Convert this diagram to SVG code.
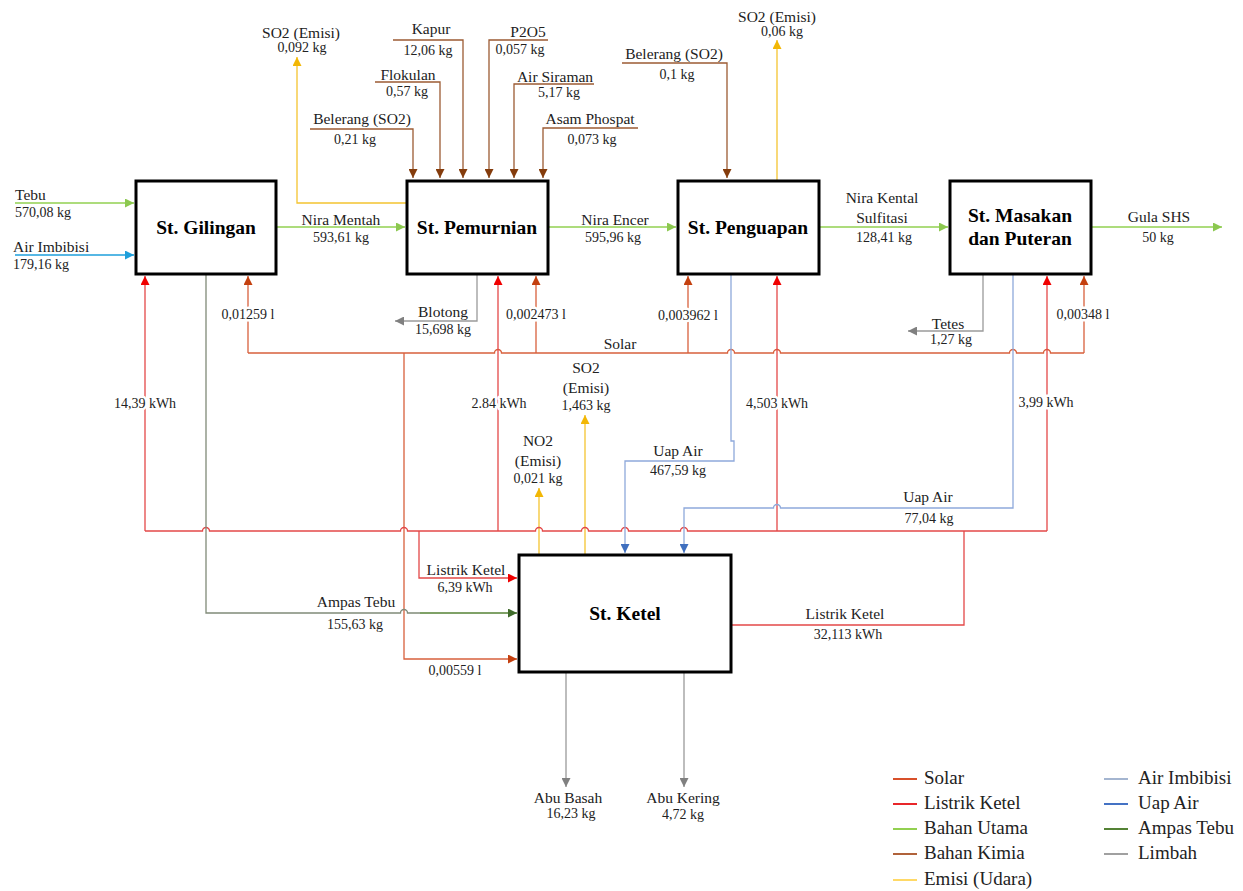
<svg xmlns="http://www.w3.org/2000/svg" width="1243" height="891" viewBox="0 0 1243 891">
<style>
text{fill:#222}
.n{font-size:15.5px}
.v{font-size:14px}
.c{text-anchor:middle}
.t{font-size:19.5px;font-weight:bold;text-anchor:middle;fill:#000}
.lg{font-size:19px}
.bg{stroke:#fff;stroke-width:5px;paint-order:stroke;stroke-linejoin:round}
.box{fill:#fff;stroke:#000;stroke-width:3}
.ln{fill:none;stroke-width:1.3}
.g{stroke:#92D050}
.cy{stroke:#1E9FDB}
.br{stroke:#9C5B33}
.y{stroke:#F4C430}
.r{stroke:#E34848}
.s{stroke:#D8603C}
.u{stroke:#8EA9DB}
.gr{stroke:#9A9A9A}
.am{stroke:#548235}
.amg{stroke:#808a78}
</style>
<defs>
<marker id="mg" viewBox="0 0 10 10" refX="10" refY="5" markerWidth="10" markerHeight="9" markerUnits="userSpaceOnUse" orient="auto"><path d="M0,0L10,5L0,10z" fill="#8CC850"/></marker>
<marker id="mcy" viewBox="0 0 10 10" refX="10" refY="5" markerWidth="10" markerHeight="9" markerUnits="userSpaceOnUse" orient="auto"><path d="M0,0L10,5L0,10z" fill="#1E9FDB"/></marker>
<marker id="mbr" viewBox="0 0 10 10" refX="10" refY="5" markerWidth="10" markerHeight="9" markerUnits="userSpaceOnUse" orient="auto"><path d="M0,0L10,5L0,10z" fill="#843C0C"/></marker>
<marker id="my" viewBox="0 0 10 10" refX="10" refY="5" markerWidth="10" markerHeight="9" markerUnits="userSpaceOnUse" orient="auto"><path d="M0,0L10,5L0,10z" fill="#F2B705"/></marker>
<marker id="mr" viewBox="0 0 10 10" refX="10" refY="5" markerWidth="10" markerHeight="9" markerUnits="userSpaceOnUse" orient="auto"><path d="M0,0L10,5L0,10z" fill="#F00000"/></marker>
<marker id="ms" viewBox="0 0 10 10" refX="10" refY="5" markerWidth="10" markerHeight="9" markerUnits="userSpaceOnUse" orient="auto"><path d="M0,0L10,5L0,10z" fill="#C4400F"/></marker>
<marker id="mu" viewBox="0 0 10 10" refX="10" refY="5" markerWidth="10" markerHeight="9" markerUnits="userSpaceOnUse" orient="auto"><path d="M0,0L10,5L0,10z" fill="#3F6FBF"/></marker>
<marker id="mgr" viewBox="0 0 10 10" refX="10" refY="5" markerWidth="10" markerHeight="9" markerUnits="userSpaceOnUse" orient="auto"><path d="M0,0L10,5L0,10z" fill="#808080"/></marker>
<marker id="mam" viewBox="0 0 10 10" refX="10" refY="5" markerWidth="10" markerHeight="9" markerUnits="userSpaceOnUse" orient="auto"><path d="M0,0L10,5L0,10z" fill="#3F6A2A"/></marker>
</defs>
<rect width="1243" height="891" fill="#fff"/>

<g id="connectors">
<path class="ln g" d="M15,203H134" marker-end="url(#mg)"/>
<path class="ln cy" d="M15,255H134" marker-end="url(#mcy)"/>
<path class="ln g" d="M277,227H405" marker-end="url(#mg)"/>
<path class="ln g" d="M548,227H676" marker-end="url(#mg)"/>
<path class="ln g" d="M819,227H948" marker-end="url(#mg)"/>
<path class="ln g" d="M1091,227H1222" marker-end="url(#mg)"/>
<path class="ln y" d="M407,203H297V57" marker-end="url(#my)"/>
<path class="ln y" d="M777,180V40" marker-end="url(#my)"/>
<path class="ln y" d="M539,555V488" marker-end="url(#my)"/>
<path class="ln y" d="M585,555V415" marker-end="url(#my)"/>
<path class="ln br" d="M310,129H413V178" marker-end="url(#mbr)"/>
<path class="ln br" d="M375,82H440V178" marker-end="url(#mbr)"/>
<path class="ln br" d="M393,40H463V178" marker-end="url(#mbr)"/>
<path class="ln br" d="M548,40H489V178" marker-end="url(#mbr)"/>
<path class="ln br" d="M594,84H514V178" marker-end="url(#mbr)"/>
<path class="ln br" d="M638,128H543V178" marker-end="url(#mbr)"/>
<path class="ln br" d="M622,63H727V178" marker-end="url(#mbr)"/>
<path class="ln gr" d="M477,274V321H395" marker-end="url(#mgr)"/>
<path class="ln gr" d="M983,274V331H908" marker-end="url(#mgr)"/>
<path class="ln gr" d="M566,672V787" marker-end="url(#mgr)"/>
<path class="ln gr" d="M684,672V787" marker-end="url(#mgr)"/>
<path class="ln s" d="M248,353H494.5a3.5,3.5 0 0 1 7,0H727.5a3.5,3.5 0 0 1 7,0H773.5a3.5,3.5 0 0 1 7,0H1009.5a3.5,3.5 0 0 1 7,0H1043.5a3.5,3.5 0 0 1 7,0H1084"/>
<path class="ln s" d="M248,353V276" marker-end="url(#ms)"/>
<path class="ln s" d="M536,353V276" marker-end="url(#ms)"/>
<path class="ln s" d="M688,353V276" marker-end="url(#ms)"/>
<path class="ln s" d="M1084,353V276" marker-end="url(#ms)"/>
<path class="ln s" d="M404,353V659H517" marker-end="url(#ms)"/>
<path class="ln r" d="M145,531H202.5a3.5,3.5 0 0 1 7,0H400.5a3.5,3.5 0 0 1 7,0H535.5a3.5,3.5 0 0 1 7,0H581.5a3.5,3.5 0 0 1 7,0H621.5a3.5,3.5 0 0 1 7,0H680.5a3.5,3.5 0 0 1 7,0H1047"/>
<path class="ln r" d="M145,531V276" marker-end="url(#mr)"/>
<path class="ln r" d="M498,531V276" marker-end="url(#mr)"/>
<path class="ln r" d="M777,531V276" marker-end="url(#mr)"/>
<path class="ln r" d="M1047,531V276" marker-end="url(#mr)"/>
<path class="ln r" d="M731,625H964V531"/>
<path class="ln r" d="M419,531V578H517" marker-end="url(#mr)"/>
<path class="ln u" d="M731,274V441H734V461H625V553" marker-end="url(#mu)"/>
<path class="ln u" d="M1013,274V508H780.5a3.5,3.5 0 0 0 -7,0H684V553" marker-end="url(#mu)"/>
<path class="ln amg" d="M206,274V613H400.5a3.5,3.5 0 0 1 7,0H420"/>
<path class="ln am" d="M420,613H517" marker-end="url(#mam)"/>
</g>

<g id="node-gilingan" font-family="Liberation Serif, serif"><rect class="box" x="136" y="181" width="140" height="93"/><text class="t" x="206" y="234">St. Gilingan</text></g>
<g id="node-pemurnian" font-family="Liberation Serif, serif"><rect class="box" x="407" y="181" width="141" height="93"/><text class="t" x="477" y="234">St. Pemurnian</text></g>
<g id="node-penguapan" font-family="Liberation Serif, serif"><rect class="box" x="678" y="181" width="141" height="93"/><text class="t" x="748" y="234">St. Penguapan</text></g>
<g id="node-masakan" font-family="Liberation Serif, serif"><rect class="box" x="950" y="181" width="141" height="93"/><text class="t" x="1020" y="222">St. Masakan</text><text class="t" x="1020" y="245">dan Puteran</text></g>
<g id="node-ketel" font-family="Liberation Serif, serif"><rect class="box" x="519" y="555" width="212" height="117"/><text class="t" x="625" y="620">St. Ketel</text></g>

<g id="labels" font-family="Liberation Serif, serif">
<text class="n" x="15" y="200">Tebu</text><text class="v" x="15" y="217">570,08 kg</text>
<text class="n" x="13" y="252">Air Imbibisi</text><text class="v" x="13" y="269">179,16 kg</text>
<text class="n c" x="341" y="225">Nira Mentah</text><text class="v c" x="341" y="242">593,61 kg</text>
<text class="n c" x="615" y="225">Nira Encer</text><text class="v c" x="613" y="242">595,96 kg</text>
<text class="n c" x="882" y="203">Nira Kental</text><text class="n c" x="882" y="223">Sulfitasi</text><text class="v c" x="884" y="242">128,41 kg</text>
<text class="n c" x="1159" y="222">Gula SHS</text><text class="v c" x="1158" y="242">50 kg</text>
<text class="n c" x="301" y="38">SO2 (Emisi)</text><text class="v c" x="302" y="52">0,092 kg</text>
<text class="n c" x="431" y="34">Kapur</text><text class="v c" x="428" y="55">12,06 kg</text>
<text class="n c" x="408" y="80">Flokulan</text><text class="v c" x="407" y="96">0,57 kg</text>
<text class="n c" x="362" y="124">Belerang (SO2)</text><text class="v c" x="355" y="144">0,21 kg</text>
<text class="n c" x="528" y="37">P2O5</text><text class="v c" x="520" y="54">0,057 kg</text>
<text class="n c" x="555" y="82">Air Siraman</text><text class="v c" x="559" y="97">5,17 kg</text>
<text class="n c" x="590" y="124">Asam Phospat</text><text class="v c" x="592" y="144">0,073 kg</text>
<text class="n c" x="674" y="59">Belerang (SO2)</text><text class="v c" x="677" y="79">0,1 kg</text>
<text class="n c" x="777" y="22">SO2 (Emisi)</text><text class="v c" x="782" y="36">0,06 kg</text>
<text class="v c bg" x="248" y="319">0,01259 l</text>
<text class="v c bg" x="536" y="319">0,002473 l</text>
<text class="v c bg" x="688" y="320">0,003962 l</text>
<text class="v c bg" x="1083" y="319">0,00348 l</text>
<text class="v c bg" x="145" y="408">14,39 kWh</text>
<text class="v c bg" x="499" y="408">2.84 kWh</text>
<text class="v c bg" x="777" y="408">4,503 kWh</text>
<text class="v c bg" x="1046" y="407">3,99 kWh</text>
<text class="n c" x="443" y="317">Blotong</text><text class="v c" x="443" y="334">15,698 kg</text>
<text class="n c" x="948" y="329">Tetes</text><text class="v c" x="951" y="344">1,27 kg</text>
<text class="n c" x="620" y="349">Solar</text>
<text class="n c" x="586" y="373">SO2</text><text class="n c" x="586" y="393">(Emisi)</text><text class="v c" x="586" y="410">1,463 kg</text>
<text class="n c" x="538" y="446">NO2</text><text class="n c" x="538" y="466">(Emisi)</text><text class="v c" x="538" y="483">0,021 kg</text>
<text class="n c" x="678" y="456">Uap Air</text><text class="v c" x="678" y="475">467,59 kg</text>
<text class="n c" x="928" y="502">Uap Air</text><text class="v c" x="929" y="523">77,04 kg</text>
<text class="n c" x="466" y="575">Listrik Ketel</text><text class="v c" x="465" y="592">6,39 kWh</text>
<text class="n c" x="356" y="607">Ampas Tebu</text><text class="v c" x="355" y="629">155,63 kg</text>
<text class="v c" x="455" y="675">0,00559 l</text>
<text class="n c" x="845" y="619">Listrik Ketel</text><text class="v c" x="848" y="639">32,113 kWh</text>
<text class="n c" x="568" y="803">Abu Basah</text><text class="v c" x="571" y="818">16,23 kg</text>
<text class="n c" x="683" y="803">Abu Kering</text><text class="v c" x="683" y="819">4,72 kg</text>
</g>

<g id="legend" font-family="Liberation Serif, serif">
<path d="M893,779H917" stroke="#D8502A" stroke-width="2"/><text class="lg" x="924" y="784">Solar</text>
<path d="M893,804H917" stroke="#E8262A" stroke-width="2"/><text class="lg" x="924" y="809">Listrik Ketel</text>
<path d="M893,829H917" stroke="#92D050" stroke-width="2"/><text class="lg" x="924" y="834">Bahan Utama</text>
<path d="M893,854H917" stroke="#B0623A" stroke-width="2"/><text class="lg" x="924" y="859">Bahan Kimia</text>
<path d="M893,880H917" stroke="#FFD966" stroke-width="2"/><text class="lg" x="924" y="885">Emisi (Udara)</text>
<path d="M1104,779H1128" stroke="#A4B5D0" stroke-width="2"/><text class="lg" x="1138" y="784">Air Imbibisi</text>
<path d="M1104,804H1128" stroke="#4472C4" stroke-width="2"/><text class="lg" x="1138" y="809">Uap Air</text>
<path d="M1104,829H1128" stroke="#548235" stroke-width="2"/><text class="lg" x="1138" y="834">Ampas Tebu</text>
<path d="M1104,854H1128" stroke="#A0A0A0" stroke-width="2"/><text class="lg" x="1138" y="859">Limbah</text>
</g>
</svg>
